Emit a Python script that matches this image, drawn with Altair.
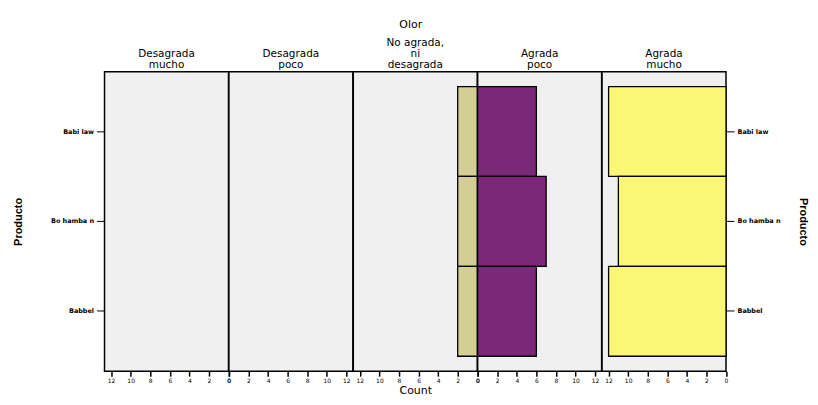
import altair as alt
import pandas as pd

# ---- data ----
productos = ["Babi law", "Bo hamba n", "Babbel"]
categorias = ["Desagrada mucho", "Desagrada poco", "No agrada, ni desagrada",
              "Agrada poco", "Agrada mucho"]
titulos = [["Desagrada", "mucho"], ["Desagrada", "poco"],
           ["No agrada,", "ni", "desagrada"],
           ["Agrada", "poco"], ["Agrada", "mucho"]]
titulo_general = "Olor"
conteos = {
    "Desagrada mucho": [0, 0, 0],
    "Desagrada poco": [0, 0, 0],
    "No agrada, ni desagrada": [2, 2, 2],
    "Agrada poco": [6, 7, 6],
    "Agrada mucho": [12, 11, 12],
}
colores = {
    "Desagrada mucho": "#cccccc",
    "Desagrada poco": "#cccccc",
    "No agrada, ni desagrada": "#d3ce96",
    "Agrada poco": "#7b2878",
    "Agrada mucho": "#faf777",
}
invertido = [True, False, True, False, True]
ticks = [0, 2, 4, 6, 8, 10, 12]

rows = []
for c in categorias:
    for p, n in zip(productos, conteos[c]):
        rows.append({"Olor": c, "Producto": p, "Count": n})
df = pd.DataFrame(rows)

FONT = "DejaVu Sans"
W = 124.6
H = 301

panels = []
for i, c in enumerate(categorias):
    yaxis = None
    if i == 0:
        yaxis = alt.Axis(orient="left", title="Producto", labelFontSize=6.5, labelFontWeight="bold",
                         labelColor="black", tickColor="black", tickSize=8, domain=False,
                         labelPadding=3,
                         titleFontSize=11, titleFont="Liberation Sans", titleFontWeight="bold",
                         titleX=-86, titleY=H / 2, titleAngle=-90, titleAlign="center",
                         titleBaseline="middle", labelFont=FONT)
    elif i == 4:
        yaxis = alt.Axis(orient="right", title="Producto", labelFontSize=6.5, labelFontWeight="bold",
                         labelColor="black", tickColor="black", tickSize=8, domain=False,
                         labelPadding=3,
                         titleFontSize=11, titleFont="Liberation Sans", titleFontWeight="bold",
                         titleX=77, titleY=H / 2, titleAngle=90, titleAlign="center",
                         titleBaseline="middle", labelFont=FONT)
    xaxis = alt.Axis(values=ticks, labelFontSize=6, labelFont=FONT, labelColor="black",
                     tickColor="black", tickSize=5, tickWidth=1.5, domain=False, grid=False,
                     labelOverlap=False, labelFlush=False, labelBound=False, labelPadding=1,
                     title="Count" if i == 2 else None, titleFontSize=11, titleFont=FONT,
                     titleFontWeight="normal", titlePadding=1)
    ch = alt.Chart(df).transform_filter(
        (alt.datum.Olor == c) & (alt.datum.Count > 0)
    ).mark_bar(color=colores[c], stroke="black", strokeWidth=1.3).encode(
        x=alt.X("Count:Q", scale=alt.Scale(domain=[0, 12.67], reverse=invertido[i], nice=False,
                                           zero=True), axis=xaxis),
        y=alt.Y("Producto:N", sort=productos,
                scale=alt.Scale(domain=productos, paddingInner=0, paddingOuter=0.166),
                axis=yaxis),
    ).properties(
        width=W, height=H,
        title=alt.TitleParams(text=titulos[i], fontSize=10.5, font=FONT, fontWeight="normal",
                              lineHeight=11, baseline="bottom", offset=-9, anchor="middle",
                              color="black"),
    )
    panels.append(ch)

chart = alt.hconcat(*panels, spacing=0, bounds="flush").resolve_scale(
    x="independent", y="shared"
).configure_view(
    fill="#f0f0f0", stroke="black", strokeWidth=1.5
).properties(
    background="white",
    padding={"left": 4, "top": 9, "right": 0, "bottom": 0},
    title=alt.TitleParams(text=titulo_general, fontSize=11, font=FONT, fontWeight="normal",
                          anchor="middle", color="black", offset=8),
)

chart.save("out.html", embed_options={"renderer": "svg", "actions": False})
